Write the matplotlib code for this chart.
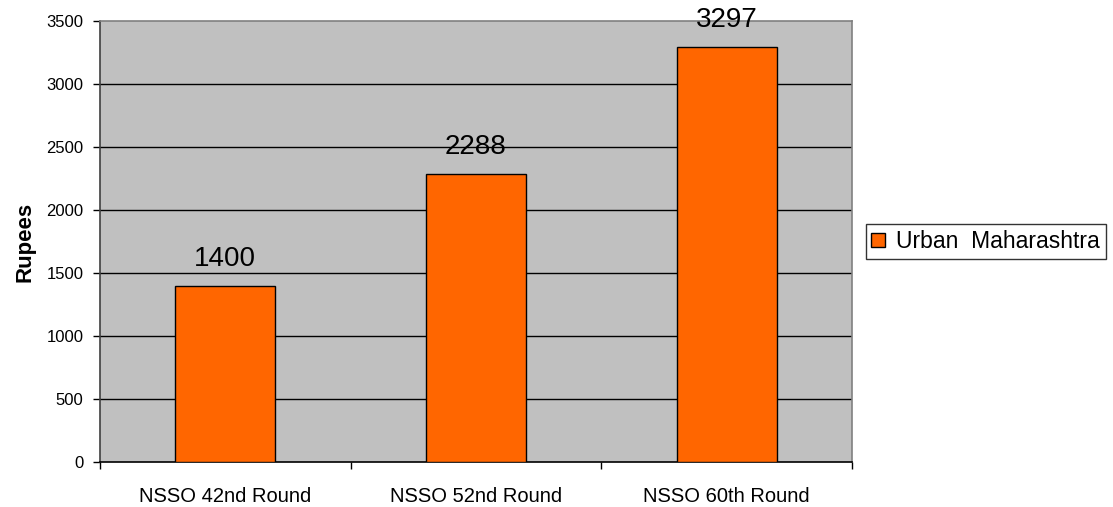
import numpy as np
import matplotlib.pyplot as plt

plt.rcParams['font.family'] = ['Liberation Sans', 'DejaVu Sans']

rounds = ["NSSO 42nd Round", "NSSO 52nd Round", "NSSO 60th Round"]
values = [1400, 2288, 3297]
series_name = "Urban  Maharashtra"
yticks = [0, 500, 1000, 1500, 2000, 2500, 3000, 3500]

fig = plt.figure(figsize=(11.13, 5.07), dpi=100)
ax = fig.add_axes([0.0898, 0.0888, 0.6757, 0.8698])
ax.set_facecolor("#C0C0C0")

x = np.arange(len(rounds))
bars = ax.bar(x, values, width=0.4, color="#FF6600", edgecolor="black",
              linewidth=1.0, label=series_name, zorder=3)

for xi, v in zip(x, values):
    ax.annotate(str(v), (xi, v), xytext=(0, 10), textcoords="offset points",
                ha="center", va="bottom", fontsize=20, zorder=4)

ax.set_xlim(-0.5, len(rounds) - 0.5)
ax.set_ylim(0, 3500)
ax.set_yticks(yticks)
ax.tick_params(axis="y", labelsize=12, length=5, direction="out", width=1, pad=7)
for yv in yticks[1:-1]:
    ax.axhline(yv, color="black", linewidth=1, zorder=1)

# category labels centred, tick marks at the boundaries
ax.set_xticks(x)
ax.set_xticklabels(rounds, fontsize=14.5)
ax.tick_params(axis="x", length=0, pad=18)
ax.set_xticks(np.arange(-0.5, len(rounds)), minor=True)
ax.tick_params(axis="x", which="minor", length=5, direction="out", width=1)

ax.spines["top"].set_color("#808080")
ax.spines["right"].set_color("#808080")
ax.spines["left"].set_color("#404040")
ax.spines["bottom"].set_color("black")
for s in ax.spines.values():
    s.set_linewidth(1.2)

ax.set_ylabel("Rupees", fontsize=16, fontweight="bold", labelpad=8)

leg = ax.legend(loc="center left", bbox_to_anchor=(1.018, 0.5), fontsize=16.5,
                frameon=True, fancybox=False, edgecolor="black",
                handlelength=0.6, handleheight=0.6, handletextpad=0.5,
                borderpad=0.25, borderaxespad=0)
leg.get_frame().set_linewidth(1.0)

plt.savefig("out.png", dpi=100)
